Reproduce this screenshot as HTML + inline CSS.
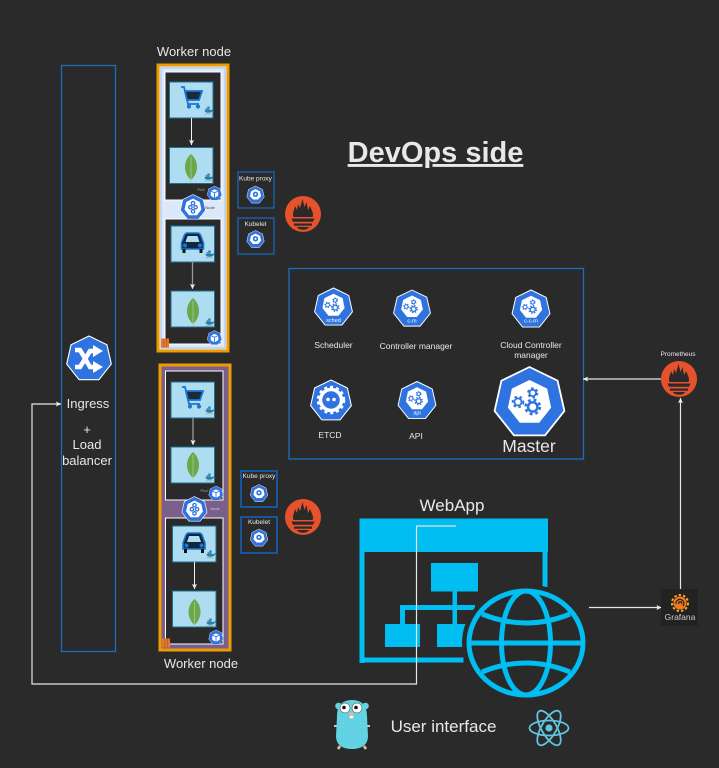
<!DOCTYPE html>
<html>
<head>
<meta charset="utf-8">
<style>
html,body{margin:0;padding:0;background:#2a2a2a;width:719px;height:768px;overflow:hidden}
svg{display:block;position:absolute;left:0;top:0}
text{font-family:"Liberation Sans",sans-serif;fill:#e8e8e8;text-anchor:middle}
</style>
</head>
<body>
<svg width="719" height="768" viewBox="0 0 719 768" xmlns="http://www.w3.org/2000/svg">
<defs>
  <g id="hept">
    <polygon points="0,-1 .78,-.62 .97,.22 .43,.9 -.43,.9 -.97,.22 -.78,-.62" fill="#2f73e0" stroke="#fff" stroke-width=".05" stroke-linejoin="round"/>
  </g>
  <g id="gears">
    <polygon points="0,-.64 .49,-.4 .6,.13 .27,.55 -.27,.55 -.6,.13 -.49,-.4" fill="#fff"/>
    <g fill="none" stroke="#2f73e0">
      <circle cx=".09" cy="-.28" r=".09" stroke-width=".05"/>
      <circle cx=".09" cy="-.28" r=".13" stroke-width=".05" stroke-dasharray=".07 .07"/>
      <circle cx="-.32" cy="-.03" r=".1" stroke-width=".05"/>
      <circle cx="-.32" cy="-.03" r=".15" stroke-width=".05" stroke-dasharray=".07 .08"/>
      <circle cx=".09" cy=".11" r=".13" stroke-width=".07"/>
      <circle cx=".09" cy=".11" r=".2" stroke-width=".07" stroke-dasharray=".08 .08"/>
    </g>
  </g>
  <g id="k8s"><use href="#hept"/><use href="#gears"/></g>
  <g id="k8sl"><use href="#hept"/><g transform="translate(0,-.1) scale(.95)"><use href="#gears"/></g></g>
  <g id="small">
    <use href="#hept"/>
    <polygon points="0,-.65 .5,-.4 .62,.14 .28,.5 -.28,.5 -.62,.14 -.5,-.4" fill="#fff"/>
    <circle cy="-.08" r=".3" fill="#2f73e0"/>
    <circle cy="-.08" r=".12" fill="#fff"/>
  </g>
  <g id="pod">
    <use href="#hept"/>
    <path d="M0,-.55 L.5,-.32 V.3 L0,.6 L-.5,.3 V-.32 Z" fill="#fff"/>
    <path d="M-.5,-.32 L0,-.1 L.5,-.32 M0,-.1 V.6" stroke="#2f73e0" stroke-width=".12" fill="none"/>
  </g>
  <g id="nodeicon">
    <use href="#hept"/>
    <polygon points="0,-.68 .52,-.42 .65,.15 .3,.6 -.3,.6 -.65,.15 -.52,-.42" fill="#fff"/>
    <g fill="none" stroke="#2f73e0" stroke-width=".1">
      <circle cx="0" cy="-.33" r=".13"/><circle cx="-.2" cy="-.02" r=".13"/><circle cx=".2" cy="-.02" r=".13"/><circle cx="0" cy=".3" r=".13"/>
    </g>
  </g>
  <g id="prom">
    <circle r="18" fill="#e6522c"/>
    <path d="M-9.500,3 C-11,-1 -9,-3 -8,-8 L-6,-4 L-5,-10 L-3,-6 L-.5,-15 L1.500,-7 L3.500,-12 L5,-4 L7,-8 C9,-3 11,0 9.500,3 Z" fill="#2a2a2a"/>
    <path d="M-11.500,4.500 H11.500 L10,7.800 H-10 Z" fill="#2a2a2a"/>
    <rect x="-9" y="9.500" width="18" height="2.200" fill="#2a2a2a"/>
    <path d="M-6,13 H6 C5,16.500 -5,16.500 -6,13 Z" fill="#2a2a2a"/>
  </g>
  <g id="whale">
    <path d="M-5,0 H5 C6,-1 7,-1 8,-1 C7,2 5,4 0,4 C-3,4 -5,2 -5,0 Z" fill="#2a7ea8"/>
    <rect x="-3.500" y="-2.500" width="6" height="2.200" fill="#2a7ea8"/>
    <rect x="-1" y="-5" width="3.400" height="2.200" fill="#2a7ea8"/>
    <rect x="-5" y="5" width="10" height="1" fill="#8aa"/>
  </g>
  <g id="cart" fill="none" stroke="#1976d2" stroke-width="1.800">
    <path d="M-10,-10 H-7 L-3,7 H8" />
    <path d="M-6,-6 H11 L8,3 H-4 Z" fill="#1e2a38"/>
    <circle cx="-2" cy="9.500" r="1.200" fill="#1976d2"/>
    <circle cx="7" cy="9.500" r="1.200" fill="#1976d2"/>
  </g>
  <g id="leaf">
    <path d="M0,-13 C8,-6 8,6 0,13 C-8,6 -8,-6 0,-13 Z" fill="#6aa84a"/>
    <path d="M0,-10 V15" stroke="#b5c9a5" stroke-width=".7"/>
  </g>
  <g id="car">
    <path d="M-11,0 L-8,-8 Q-7,-10 -5,-10 H5 Q7,-10 8,-8 L11,0 V6 H-11 Z" fill="#13263c" stroke="#1976d2" stroke-width="1.600"/>
    <path d="M-7,-1 L-5,-7 H5 L7,-1 Z" fill="#aedcf0"/>
    <circle cx="-7.500" cy="2.500" r="2" fill="#1976d2"/><circle cx="7.500" cy="2.500" r="2" fill="#1976d2"/>
    <rect x="-10" y="6" width="3" height="4" fill="#111"/><rect x="7" y="6" width="3" height="4" fill="#111"/>
  </g>
  <g id="aws">
    <rect x="-4" y="-4.500" width="8" height="9" fill="#e8792c"/>
    <path d="M-1,-4.500 V4.500 M1.500,-4.500 V4.500" stroke="#b9551a" stroke-width=".7"/>
  </g>
  <marker id="arr" markerWidth="6" markerHeight="6" refX="5" refY="2.500" orient="auto" markerUnits="userSpaceOnUse">
    <path d="M0,0 L5,2.500 L0,5 L1,2.500 Z" fill="#f2f2f2"/>
  </marker>
</defs>

<rect width="719" height="768" fill="#2a2a2a"/>

<!-- Ingress -->
<rect x="61.500" y="65.500" width="54" height="586" fill="none" stroke="#1a6fc0" stroke-width="1.300"/>
<g transform="translate(89,359) scale(23)"><use href="#hept"/></g>
<g fill="none" stroke="#fff" stroke-width="4.500">
  <path d="M75,350 H80 L90,367 H95"/>
  <path d="M75,367 H80 L90,351 H95"/>
</g>
<path d="M93,345 L103,351 L93,357 Z M93,361 L103,367 L93,373 Z" fill="#fff"/>
<text x="88" y="408" font-size="13">Ingress</text>
<text x="87" y="434" font-size="13">+</text>
<text x="87" y="449" font-size="13">Load</text>
<text x="87" y="465" font-size="13">balancer</text>

<!-- Worker 1 -->
<text x="194" y="56" font-size="13">Worker node</text>
<rect x="158" y="65" width="70" height="286" fill="#dce9fb" stroke="#ef9c00" stroke-width="3"/>
<rect x="161" y="68" width="64" height="280" fill="#dce9fb" stroke="#a9c4ec" stroke-width="1"/>
<rect x="165" y="72" width="56" height="128" fill="#2a2a2a" stroke="#fff" stroke-width="1"/>
<rect x="165" y="219" width="56" height="125" fill="#2a2a2a" stroke="#fff" stroke-width="1"/>
<g stroke="#1f7090" stroke-width="1" fill="#aedcf0">
  <rect x="169.500" y="82" width="43.500" height="36"/>
  <rect x="169.500" y="147.500" width="43.500" height="36"/>
  <rect x="171" y="226" width="43.500" height="36"/>
  <rect x="171" y="291" width="43.500" height="36"/>
</g>
<use href="#cart" transform="translate(191,97)"/>
<use href="#leaf" transform="translate(191,167)"/>
<use href="#car" transform="translate(192.500,243)"/>
<use href="#leaf" transform="translate(193,311)"/>
<use href="#whale" transform="translate(208,110) scale(.7)"/>
<use href="#whale" transform="translate(208,177) scale(.7)"/>
<use href="#whale" transform="translate(209,254) scale(.7)"/>
<use href="#whale" transform="translate(209,322) scale(.7)"/>
<path d="M191.500,118 V145" stroke="#f2f2f2" stroke-width="1" marker-end="url(#arr)"/>
<path d="M192.500,262 V289" stroke="#999" stroke-width="1.300" marker-end="url(#arr)"/>
<text x="201" y="191" font-size="4" style="fill:#aaa">Pod</text>
<use href="#pod" transform="translate(214.500,193.500) scale(7.500)"/>
<use href="#nodeicon" transform="translate(193,207.500) scale(13)"/>
<text x="210" y="209" font-size="4" style="fill:#444">Node</text>
<use href="#pod" transform="translate(214.500,338) scale(7.500)"/>
<use href="#aws" transform="translate(165,343)"/>

<!-- Worker 2 -->
<rect x="160" y="365" width="70" height="285" fill="#7a5f8c" stroke="#ef9c00" stroke-width="3"/>
<rect x="165.500" y="371" width="57.500" height="129" fill="#2a2a2a" stroke="#fff" stroke-width="1"/>
<rect x="165.500" y="518" width="57.500" height="126" fill="#2a2a2a" stroke="#fff" stroke-width="1"/>
<g stroke="#1f7090" stroke-width="1" fill="#aedcf0">
  <rect x="171" y="382" width="43.500" height="36"/>
  <rect x="171" y="447" width="43.500" height="36"/>
  <rect x="172.500" y="526" width="43.500" height="36"/>
  <rect x="172.500" y="591" width="43.500" height="36"/>
</g>
<use href="#cart" transform="translate(192,397)"/>
<use href="#leaf" transform="translate(193,465)"/>
<use href="#car" transform="translate(194,543)"/>
<use href="#leaf" transform="translate(194.500,612)"/>
<use href="#whale" transform="translate(209,410) scale(.7)"/>
<use href="#whale" transform="translate(209,477) scale(.7)"/>
<use href="#whale" transform="translate(210,554) scale(.7)"/>
<use href="#whale" transform="translate(210,622) scale(.7)"/>
<path d="M193,418 V445" stroke="#999" stroke-width="1.300" marker-end="url(#arr)"/>
<path d="M194.500,562 V589" stroke="#f2f2f2" stroke-width="1" marker-end="url(#arr)"/>
<text x="204" y="492" font-size="4" style="fill:#aaa">Pod</text>
<use href="#pod" transform="translate(216,493.500) scale(7.500)"/>
<use href="#nodeicon" transform="translate(194.500,509.500) scale(13)"/>
<text x="215" y="510" font-size="4" style="fill:#ccc">Node</text>
<use href="#pod" transform="translate(216,637.500) scale(7.500)"/>
<use href="#aws" transform="translate(166,643)"/>
<text x="201" y="668" font-size="13">Worker node</text>

<!-- Proxy boxes -->
<g fill="none" stroke="#1567bb" stroke-width="1.300">
  <rect x="238" y="172" width="36" height="36"/>
  <rect x="238" y="218" width="36" height="36"/>
</g>
<g fill="none" stroke="#0f6fd6" stroke-width="1.300">
  <rect x="241" y="471" width="36" height="36"/>
  <rect x="241" y="517" width="36" height="36"/>
</g>
<text x="255.500" y="180.500" font-size="6.500">Kube proxy</text>
<use href="#small" transform="translate(255.500,195) scale(9)"/>
<text x="255.500" y="226" font-size="6.500">Kubelet</text>
<use href="#small" transform="translate(255.500,239.500) scale(9)"/>
<text x="259" y="478" font-size="6.500">Kube proxy</text>
<use href="#small" transform="translate(259,493.500) scale(9)"/>
<text x="259" y="524" font-size="6.500">Kubelet</text>
<use href="#small" transform="translate(259,538) scale(9)"/>

<use href="#prom" transform="translate(303,214)"/>
<use href="#prom" transform="translate(303,517)"/>

<!-- Title -->
<text x="435.500" y="162" font-size="29" font-weight="bold" text-decoration="underline">DevOps side</text>

<!-- Master -->
<rect x="289" y="268.500" width="294.500" height="190.500" fill="none" stroke="#1a6fc0" stroke-width="1.300"/>
<use href="#k8sl" transform="translate(333.500,307.500) scale(19.500)"/>
<text x="333.500" y="322" font-size="5.500" style="fill:#fff">sched</text>
<use href="#k8sl" transform="translate(412,309) scale(19)"/>
<text x="412" y="322.500" font-size="5.500" style="fill:#fff">c-m</text>
<use href="#k8sl" transform="translate(531,309.500) scale(19.500)"/>
<text x="531" y="322.500" font-size="5.500" style="fill:#fff">c-c-m</text>
<text x="333.500" y="348" font-size="8.500">Scheduler</text>
<text x="416" y="349" font-size="8.500">Controller manager</text>
<text x="531" y="348" font-size="8.500">Cloud Controller</text>
<text x="531" y="358" font-size="8.500">manager</text>
<use href="#hept" transform="translate(331,401) scale(21)"/>
<polygon points="331,387 342,391 346,402 339,412 323,412 316,402 320,391" fill="#2f73e0"/>
<circle cx="331" cy="400" r="10.500" fill="none" stroke="#fff" stroke-width="3.500"/>
<circle cx="331" cy="400" r="13" fill="none" stroke="#fff" stroke-width="2.500" stroke-dasharray="3 3"/>
<circle cx="328" cy="399.500" r="1.800" fill="#fff"/><circle cx="334" cy="399.500" r="1.800" fill="#fff"/>
<use href="#k8sl" transform="translate(417,401) scale(19.500)"/>
<text x="417" y="414.500" font-size="5.500" style="fill:#fff">api</text>
<text x="330" y="438" font-size="8.500">ETCD</text>
<text x="416" y="439" font-size="8.500">API</text>
<use href="#k8s" transform="translate(529.500,403) scale(36)"/>
<text x="529" y="452" font-size="17.500">Master</text>

<!-- Prometheus right -->
<text x="678" y="356" font-size="6.500">Prometheus</text>
<use href="#prom" transform="translate(679,379)"/>

<!-- WebApp -->
<text x="452" y="511" font-size="17">WebApp</text>
<g fill="#00bdf2">
  <rect x="359.500" y="518.500" width="188.500" height="33.500"/>
  <rect x="359.500" y="552" width="5" height="111"/>
  <rect x="542.500" y="552" width="5" height="35"/>
  <rect x="359.500" y="657.500" width="104" height="5"/>
  <rect x="431" y="563" width="47" height="28.500"/>
  <rect x="452.500" y="591" width="4.500" height="33"/>
  <rect x="400" y="605" width="75" height="5"/>
  <rect x="400" y="605" width="5" height="20"/>
  <rect x="385" y="624" width="35" height="23"/>
  <rect x="437" y="624" width="30" height="23"/>
</g>
<ellipse cx="526" cy="643" rx="64" ry="59" fill="#2a2a2a"/>
<g fill="none" stroke="#00bdf2" stroke-width="5">
  <ellipse cx="526" cy="643" rx="57" ry="52"/>
  <ellipse cx="526" cy="643" rx="24.500" ry="52"/>
  <path d="M469,643 H583"/>
  <path d="M482,614 Q526,632 570,614"/>
  <path d="M482,672 Q526,654 570,672"/>
</g>

<!-- Connectors -->
<path d="M456,526 H416.500 V684 H32 V404 H61" fill="none" stroke="#e6e6e6" stroke-width="1.200" marker-end="url(#arr)"/>
<path d="M589,607.500 H661.500" fill="none" stroke="#e6e6e6" stroke-width="1.200" marker-end="url(#arr)"/>
<path d="M680.500,589 V398" fill="none" stroke="#e6e6e6" stroke-width="1.200" marker-end="url(#arr)"/>
<path d="M661,379 H583" fill="none" stroke="#e6e6e6" stroke-width="1.200" marker-end="url(#arr)"/>

<!-- Grafana -->
<rect x="661" y="589" width="37" height="37" fill="#222"/>
<circle cx="680" cy="603" r="6.500" fill="#f47a20"/>
<circle cx="680" cy="603" r="8" fill="none" stroke="#f9a825" stroke-width="2" stroke-dasharray="2.500 2"/>
<path d="M676,604 A4,4 0 1 1 683,606 M679,604 A1.500,1.500 0 1 1 681.500,604" fill="none" stroke="#222" stroke-width="1.200"/>
<text x="680" y="620" font-size="8.500" style="fill:#ccc">Grafana</text>

<!-- Gopher -->
<circle cx="338.500" cy="706" r="3.500" fill="#62d3e2" stroke="#333" stroke-width=".5"/>
<circle cx="365.500" cy="706" r="3.500" fill="#62d3e2" stroke="#333" stroke-width=".5"/>
<path d="M334,726 L337,726 M367,726 L370,726" stroke="#e8c49a" stroke-width="2"/>
<path d="M340,746 L338,749 M364,746 L366,749" stroke="#e8c49a" stroke-width="2.500"/>
<path d="M337,716 C337,704 344,700 352,700 C360,700 367,704 367,716 L368,736 C368,746 360,749 352,749 C344,749 336,746 336,736 Z" fill="#62d3e2"/>
<circle cx="345" cy="708" r="5" fill="#fff" stroke="#333" stroke-width=".5"/>
<circle cx="357" cy="708" r="5" fill="#fff" stroke="#333" stroke-width=".5"/>
<circle cx="344" cy="707.500" r="1.800" fill="#111"/>
<circle cx="356" cy="707.500" r="1.800" fill="#111"/>
<ellipse cx="351.500" cy="714" rx="2.700" ry="1.700" fill="#e8b48a"/>
<rect x="349.500" y="715.500" width="4" height="3" fill="#fff" stroke="#999" stroke-width=".3"/>

<text x="443.500" y="732" font-size="17">User interface</text>

<!-- React -->
<g fill="none" stroke="#61c4e0" stroke-width="1.800">
  <ellipse cx="549" cy="728" rx="19.500" ry="7.500"/>
  <ellipse cx="549" cy="728" rx="19.500" ry="7.500" transform="rotate(60 549 728)"/>
  <ellipse cx="549" cy="728" rx="19.500" ry="7.500" transform="rotate(120 549 728)"/>
</g>
<circle cx="549" cy="728" r="3.600" fill="#61c4e0"/>
</svg>
</body>
</html>
